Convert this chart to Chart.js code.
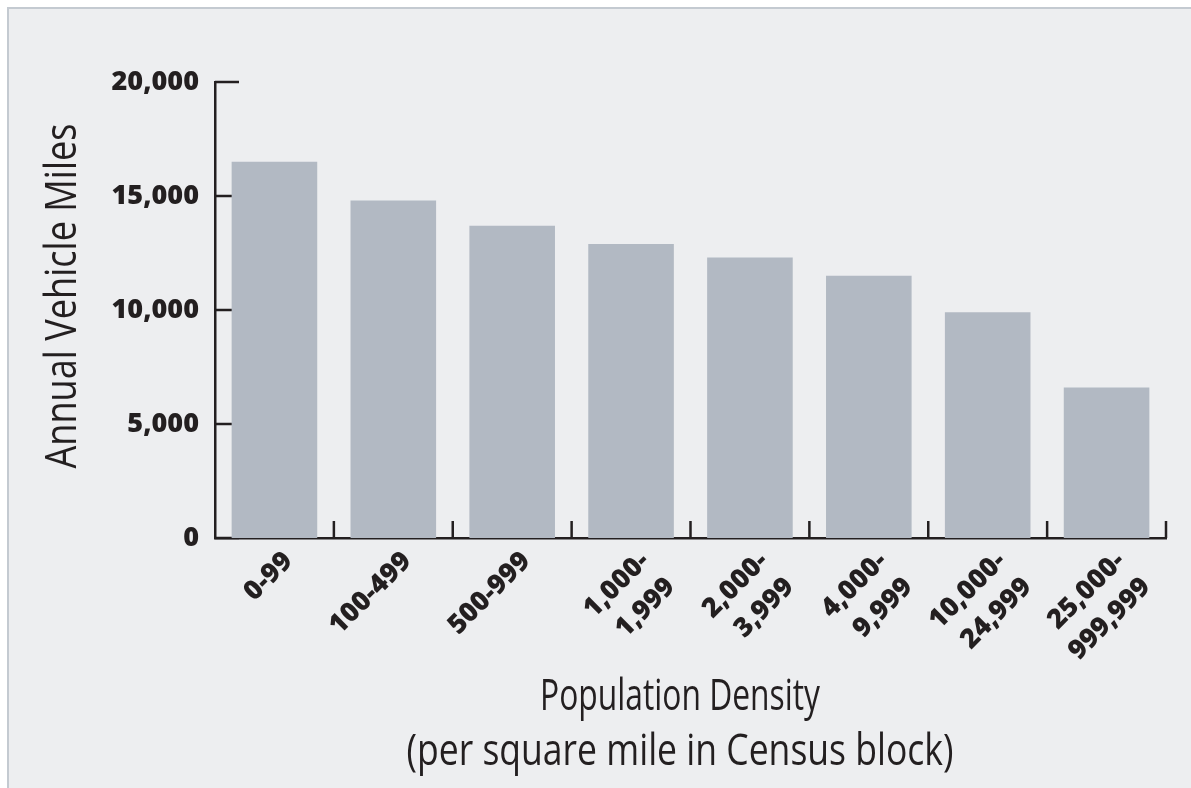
<!DOCTYPE html>
<html>
<head>
<meta charset="utf-8">
<script src="https://cdn.jsdelivr.net/npm/chart.js"></script>
<style>
  html, body { margin: 0; padding: 0; background: #fff; overflow: hidden; }
  #panel { position: absolute; left: 7px; top: 7px; width: 1184px; height: 781px; box-sizing: border-box;
           background: #edeef0; border-left: 2px solid #c4cad1; border-top: 2px solid #c4cad1; }
  #wrap { position: absolute; left: 0; top: 0; width: 1191px; height: 788px; }
</style>
</head>
<body>
<div id="panel"></div>
<div id="wrap"><canvas id="chart"></canvas></div>
<script>
// population density groups (per square mile in Census block)
const densityGroups = [
  '0-99', '100-499', '500-999',
  ['1,000-', '1,999'], ['2,000-', '3,999'], ['4,000-', '9,999'],
  ['10,000-', '24,999'], ['25,000-', '999,999']
];
// annual vehicle miles per group
const vehicleMiles = [16500, 14800, 13700, 12900, 12300, 11500, 9900, 6600];
const yTicks = [0, 5000, 10000, 15000, 20000];

const yTitle = 'Annual Vehicle Miles';
const xTitle = ['Population Density', '(per square mile in Census block)'];

const ink = '#231f20';
const titleFont = '400 44px "Open Sans", sans-serif';
const tickFont = { family: '"Open Sans", sans-serif', size: 27, weight: '800', lineHeight: 1.35 };

const ctx = document.getElementById('chart');

// the reference uses a condensed light face; squeeze the text to its width
function condensedText(c, text, x, y, width) {
  const w = c.measureText(text).width;
  c.save();
  c.translate(x, y);
  c.scale(Math.min(1, width / w), 1);
  c.fillText(text, 0, 0);
  c.restore();
}

// short tick marks pointing into the plot, plus the two axis titles
const axisExtras = {
  id: 'axisExtras',
  beforeDatasetsDraw(chart) {
    const c = chart.ctx, y = chart.scales.y, area = chart.chartArea;
    c.save();
    c.strokeStyle = ink;
    c.lineWidth = 2.5;
    yTicks.forEach(v => {
      const py = y.getPixelForValue(v);
      c.beginPath();
      c.moveTo(area.left, py);
      c.lineTo(area.left + 24, py);
      c.stroke();
    });
    c.restore();
  },
  afterDraw(chart) {
    const c = chart.ctx, x = chart.scales.x, area = chart.chartArea;
    c.save();
    c.strokeStyle = ink;
    c.lineWidth = 2.5;
    for (let i = 0; i < densityGroups.length; i++) {
      const px = x.getPixelForValue(i + 0.5);
      c.beginPath();
      c.moveTo(px, area.bottom);
      c.lineTo(px, area.bottom - 17);
      c.stroke();
    }
    c.fillStyle = ink;
    c.font = titleFont;
    c.textAlign = 'center';
    c.textBaseline = 'middle';
    condensedText(c, xTitle[0], area.left + 465, area.bottom + 159, 280);
    condensedText(c, xTitle[1], area.left + 465, area.bottom + 214, 547);
    c.translate(63, area.top + 214);
    c.rotate(-Math.PI / 2);
    condensedText(c, yTitle, 0, 0, 345);
    c.restore();
  }
};

new Chart(ctx, {
  type: 'bar',
  data: {
    labels: densityGroups,
    datasets: [{
      label: 'Annual Vehicle Miles',
      data: vehicleMiles,
      backgroundColor: '#b2b9c3',
      categoryPercentage: 1,
      barPercentage: 0.72
    }]
  },
  options: {
    responsive: true,
    maintainAspectRatio: false,
    animation: false,
    layout: { padding: { left: 30, top: 82, right: 25, bottom: 0 } },
    plugins: { legend: { display: false }, tooltip: { enabled: false } },
    scales: {
      x: {
        z: 1,
        grid: { display: false },
        border: { display: true, color: ink, width: 2.5 },
        ticks: {
          color: ink,
          font: tickFont,
          minRotation: 45,
          maxRotation: 45,
          padding: -2,
          labelOffset: 14,
          autoSkip: false
        },
        afterFit(scale) { scale.height = 250; }
      },
      y: {
        z: 1,
        min: 0,
        max: 20000,
        grid: { display: false },
        border: { display: true, color: ink, width: 2.5 },
        afterBuildTicks(scale) { scale.ticks = yTicks.map(v => ({ value: v })); },
        ticks: {
          color: ink,
          font: tickFont,
          padding: 8,
          callback: v => v.toLocaleString('en-US')
        },
        afterFit(scale) { scale.width = 185; }
      }
    }
  },
  plugins: [axisExtras]
});
</script>
</body>
</html>
